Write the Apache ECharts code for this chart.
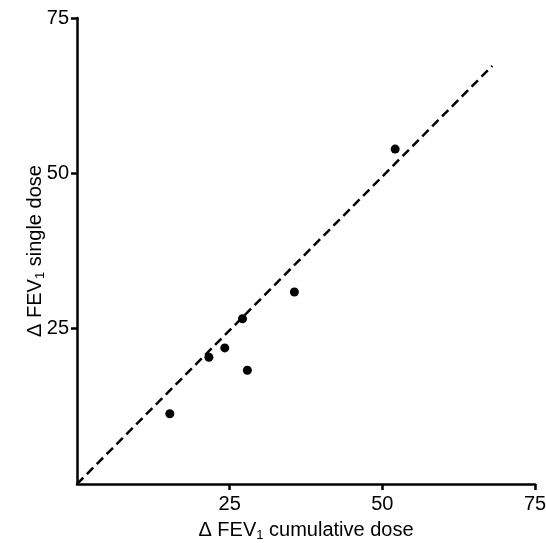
<!DOCTYPE html>
<html>
<head>
<meta charset="utf-8">
<script src="https://cdn.jsdelivr.net/npm/echarts@6/dist/echarts.min.js"></script>
<style>
  html, body { margin: 0; padding: 0; background: #fff; }
  #chart { width: 546px; height: 543px; }
</style>
</head>
<body>
<div id="chart"></div>
<script>
// ΔFEV1 cumulative dose (x) vs single dose (y)
var cumulativeDose = [15.2, 21.6, 24.2, 27.1, 27.9, 35.6, 52.1];
var singleDose = [11.3, 20.4, 21.9, 26.6, 18.3, 30.9, 53.9];
var tickValues = [25, 50, 75];
var identityLine = [[0, 0], [68, 67.3]];

var points = cumulativeDose.map(function (x, i) { return [x, singleDose[i]]; });

var FONT = '"Liberation Sans", Arial, sans-serif';

var myChart = echarts.init(document.getElementById('chart'));

var axisCommon = {
    type: 'value',
    min: 0,
    max: 75,
    nameLocation: 'middle',
    nameMoveOverlap: false,
    nameTextStyle: {
        color: '#000',
        fontFamily: FONT,
        fontSize: 20,
        lineHeight: 24,
        rich: {
            s: { fontSize: 13, fontFamily: FONT, color: '#000', verticalAlign: 'bottom', lineHeight: 24 }
        }
    },
    axisLine: { show: true, onZero: false, lineStyle: { color: '#000', width: 2.5 } },
    axisTick: { show: true, customValues: tickValues, length: 6, lineStyle: { color: '#000', width: 2.5 } },
    axisLabel: { customValues: tickValues, color: '#000', fontFamily: FONT, fontSize: 20 },
    splitLine: { show: false }
};

var option = {
    animation: false,
    backgroundColor: '#fff',
    grid: {
        left: 77,
        top: 18,
        right: 11,
        bottom: 59,
        outerBoundsMode: 'none',
        containLabel: false
    },
    xAxis: echarts.util.merge({
        name: 'Δ FEV{s|1} cumulative dose',
        nameGap: 34,
        axisLabel: { margin: 10 }
    }, axisCommon),
    yAxis: echarts.util.merge({
        name: 'Δ FEV{s|1} single dose',
        nameGap: 30,
        nameRotate: 90,
        axisLabel: { margin: 8 }
    }, axisCommon),
    series: [
        {
            type: 'line',
            data: identityLine,
            symbol: 'none',
            silent: true,
            lineStyle: { color: '#000', width: 2.5, type: [9, 5] }
        },
        {
            type: 'scatter',
            data: points,
            symbol: 'circle',
            symbolSize: 9,
            itemStyle: { color: '#000', opacity: 1 }
        }
    ]
};

myChart.setOption(option);
</script>
</body>
</html>
